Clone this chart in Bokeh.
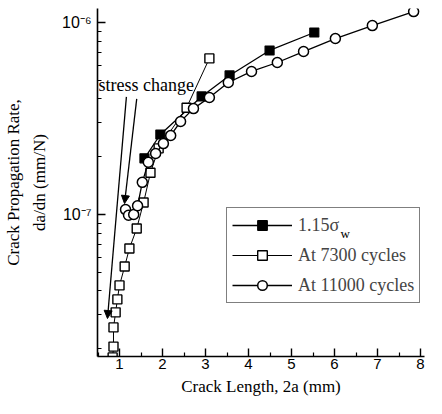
from bokeh.plotting import figure
from bokeh.models import (Range1d, FixedTicker, CustomJSTickFormatter,
                          Legend, LegendItem, Label, Arrow, NormalHead)
from bokeh.embed import file_html
from bokeh.resources import INLINE

# ---- data ----
sigma_x = [1.58, 1.95, 2.91, 3.56, 4.49, 5.53]
sigma_y = [1.96e-7, 2.61e-7, 4.12e-7, 5.3e-7, 7.15e-7, 8.87e-7]

c7300_x = [0.84, 0.86, 0.86, 0.91, 0.95, 1.00, 1.12, 1.23, 1.40, 1.56, 1.72, 1.91, 2.56, 3.09]
c7300_y = [1.80e-8, 2.05e-8, 2.58e-8, 3.09e-8, 3.61e-8, 4.27e-8, 5.36e-8, 6.65e-8,
           8.45e-8, 1.155e-7, 1.65e-7, 2.21e-7, 3.6e-7, 6.5e-7]

c11000_x = [1.14, 1.21, 1.33, 1.42, 1.53, 1.67, 1.84, 2.02, 2.19, 2.42, 2.72, 3.09,
            3.53, 4.07, 4.67, 5.28, 6.02, 6.88, 7.84]
c11000_y = [1.06e-7, 9.9e-8, 1.0e-7, 1.11e-7, 1.47e-7, 1.87e-7, 2.08e-7, 2.34e-7,
            2.58e-7, 3.05e-7, 3.56e-7, 4.07e-7, 4.87e-7, 5.56e-7, 6.19e-7, 7.06e-7,
            8.25e-7, 9.64e-7, 1.14e-6]

x_ticks = [1, 2, 3, 4, 5, 6, 7, 8]
x_minor = [0.5, 1.5, 2.5, 3.5, 4.5, 5.5, 6.5, 7.5]
y_major = [1e-7, 1e-6]
y_minor = [2e-8, 3e-8, 4e-8, 5e-8, 6e-8, 7e-8, 8e-8, 9e-8,
           2e-7, 3e-7, 4e-7, 5e-7, 6e-7, 7e-7, 8e-7, 9e-7]

labels = ["1.15\u03c3", "At 7300 cycles", "At 11000 cycles"]
x_title = "Crack Length, 2a (mm)"
y_title = "Crack Propagation Rate,\nda/dn (mm/N)"
annot_text = "stress change"
annot_pos = (0.51, 4.75e-7)
arrow1 = (1.16, 4.1e-7, 0.72, 2.87e-8)
arrow2 = (1.40, 4.0e-7, 1.116, 1.14e-7)

SERIF = "Liberation Serif"
SANS = "Liberation Sans"

p = figure(width=426, height=398, y_axis_type="log", output_backend="svg",
           toolbar_location=None, x_range=Range1d(0.488, 8.093),
           y_range=Range1d(1.82e-8, 1.183e-6),
           min_border_left=97, min_border_top=8, min_border_right=2, min_border_bottom=42)
p.outline_line_color = None
p.xgrid.visible = False
p.ygrid.visible = False
p.background_fill_color = "white"
p.border_fill_color = "white"

# axes
p.xaxis.ticker = FixedTicker(ticks=x_ticks, minor_ticks=x_minor)
p.yaxis.ticker = FixedTicker(ticks=y_major, minor_ticks=y_minor)
p.yaxis.formatter = CustomJSTickFormatter(code="""
const e = Math.round(Math.log10(tick));
const sup = {'-':'\u207b','0':'\u2070','1':'\u00b9','2':'\u00b2','3':'\u00b3','4':'\u2074',
             '5':'\u2075','6':'\u2076','7':'\u2077','8':'\u2078','9':'\u2079'};
return '10' + String(e).split('').map(c => sup[c]).join('');
""")
for ax in (p.xaxis[0], p.yaxis[0]):
    ax.axis_line_width = 1.6
    ax.axis_line_color = "black"
    ax.major_tick_in = 8
    ax.major_tick_out = 0
    ax.minor_tick_in = 4
    ax.minor_tick_out = 0
    ax.major_tick_line_width = 1.4
    ax.minor_tick_line_width = 1.2
    ax.major_tick_line_color = "black"
    ax.minor_tick_line_color = "black"
    ax.major_label_text_font = SANS
    ax.major_label_text_font_size = "15px"
    ax.major_label_text_color = "black"
    ax.axis_label_text_font = SERIF
    ax.axis_label_text_font_size = "17px"
    ax.axis_label_text_font_style = "normal"
    ax.axis_label_text_color = "black"

p.yaxis.major_label_text_font_size = "16px"
p.xaxis.axis_label = x_title
p.xaxis.major_label_standoff = 2
p.xaxis.axis_label_standoff = 5
p.yaxis.axis_label = y_title
p.yaxis.axis_label_text_line_height = 1.4
p.yaxis.major_label_standoff = 6
p.yaxis.axis_label_standoff = 10

# series
l1 = p.line(sigma_x, sigma_y, line_color="black", line_width=1.3)
m1 = p.scatter(sigma_x, sigma_y, marker="square", size=9, fill_color="black",
               line_color="black", line_width=1.2)
l2 = p.line(c7300_x, c7300_y, line_color="black", line_width=1.0)
m2 = p.scatter(c7300_x, c7300_y, marker="square", size=9, fill_color="white",
               line_color="black", line_width=1.4)
l3 = p.line(c11000_x, c11000_y, line_color="black", line_width=1.3)
m3 = p.scatter(c11000_x, c11000_y, marker="circle", size=10, fill_color="white",
               line_color="black", line_width=1.5)

legend = Legend(items=[LegendItem(label=labels[0], renderers=[l1, m1]),
                       LegendItem(label=labels[1], renderers=[l2, m2]),
                       LegendItem(label=labels[2], renderers=[l3, m3])],
                location=(129, 53), padding=5, spacing=6, label_height=24, glyph_height=24,
                glyph_width=60, label_standoff=6, margin=0,
                label_text_font=SERIF, label_text_font_size="18px",
                border_line_color="black", border_line_width=1.4,
                background_fill_alpha=0.0)
p.add_layout(legend)

# subscript "w" of the first legend label
p.add_layout(Label(x=6.14, y=7.3e-8, text="w", text_font=SERIF, text_font_size="13px",
                   text_baseline="bottom", text_color="black"))

# annotation
p.add_layout(Label(x=annot_pos[0], y=annot_pos[1], text=annot_text, text_font=SERIF,
                   text_font_size="18px", text_baseline="middle", text_color="black"))
for a in (arrow1, arrow2):
    p.add_layout(Arrow(x_start=a[0], y_start=a[1], x_end=a[2], y_end=a[3],
                       line_color="black", line_width=1.3,
                       end=NormalHead(size=8, fill_color="black", line_color="black")))

open("out.html", "w").write(file_html(p, INLINE))
